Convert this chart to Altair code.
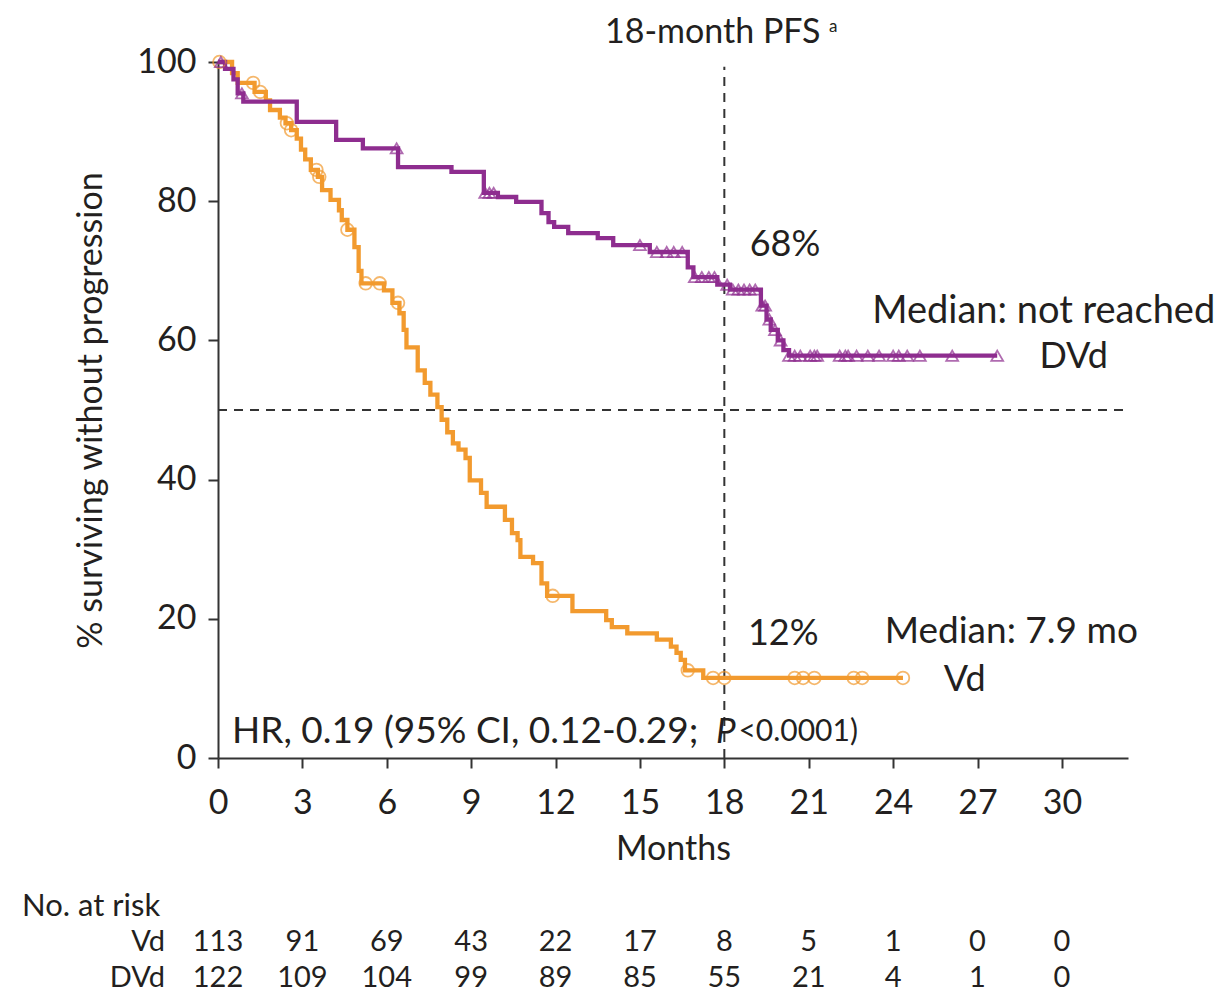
import altair as alt
import pandas as pd

# ---- data ----
vd_t = [0, 0.5, 0.7, 1.3, 1.7, 1.85, 2.2, 2.4, 2.6, 2.8, 2.95, 3.1, 3.3, 3.55, 3.7, 4.0, 4.3, 4.4,
        4.6, 4.85, 5.0, 5.1, 5.9, 6.2, 6.45, 6.6, 6.7, 7.1, 7.35, 7.55, 7.8, 7.95, 8.15, 8.35, 8.55,
        8.8, 8.95, 9.35, 9.55, 10.2, 10.45, 10.65, 10.75, 11.2, 11.5, 11.7, 12.6, 13.8, 14.0, 14.55,
        15.6, 16.1, 16.3, 16.45, 16.6, 17.25, 24.35]
vd_s = [100, 98.4, 97, 95.7, 94.5, 93.1, 92, 91.2, 90.2, 89, 87.4, 86, 84.5, 83.5, 81.6, 80.2, 78.7, 77.3,
        75.9, 73.4, 70, 68.2, 67.2, 65.4, 63.9, 61.5, 59, 55.7, 53.9, 52.2, 50.4, 48.6, 46.8, 45.2, 44.3,
        43.1, 39.9, 38.1, 36.1, 34.2, 32.3, 31.3, 28.9, 28, 25.1, 23.3, 21.1, 19.8, 18.8, 17.9,
        17, 16, 15.1, 14.1, 12.6, 11.5, 11.5]

dvd_t = [0, 0.25, 0.55, 0.7, 0.9, 2.8, 4.2, 5.15, 6.4, 8.3, 9.45, 9.95, 10.6, 11.5, 11.75, 11.95, 12.45,
         13.5, 14.05, 15.35, 16.7, 16.9, 17.75, 18.2, 19.3, 19.5, 19.65, 19.9, 20.1, 20.3, 27.7]
dvd_s = [100, 99, 97.5, 95.5, 94.3, 91.4, 88.8, 87.6, 84.9, 84.2, 81.2, 80.6, 79.9, 78.3, 77, 76.3, 75.4,
         74.7, 73.7, 72.7, 70.5, 69.1, 68, 67.3, 65, 63, 61.5, 60, 58.6, 57.8, 57.8]

vd_cens = [0.05, 1.25, 1.5, 2.45, 2.6, 3.5, 3.6, 4.6, 5.25, 5.75, 6.4, 11.9, 16.7, 17.6, 18.0,
           20.5, 20.8, 21.2, 22.6, 22.9, 24.35]
dvd_cens = [0.1, 0.85, 6.35, 9.5, 9.65, 9.8, 15.0, 15.6, 15.95, 16.2, 16.5, 16.95, 17.2, 17.45, 17.65,
            18.1, 18.3, 18.5, 18.7, 18.9, 19.1, 19.35, 19.45, 19.6, 19.8, 20.0, 20.3, 20.5, 20.7, 21.05,
            21.2, 21.3, 22.1, 22.3, 22.4, 22.7, 23.1, 23.5, 24.0, 24.2, 24.5, 24.95, 26.1, 27.7]

risk_months = [0, 3, 6, 9, 12, 15, 18, 21, 24, 27, 30]
risk_vd = [113, 91, 69, 43, 22, 17, 8, 5, 1, 0, 0]
risk_dvd = [122, 109, 104, 99, 89, 85, 55, 21, 4, 1, 0]

y_ticks = [0, 20, 40, 60, 80, 100]

ORANGE = "#F29A2E"
PURPLE = "#8E2D8F"
FONT = "Lato"
TXT = "#231f20"


def surv_at(ts, ss, t):
    v = ss[0]
    for a, b in zip(ts, ss):
        if a <= t:
            v = b
    return v


curves = pd.concat([
    pd.DataFrame({"t": vd_t, "s": vd_s, "arm": "Vd"}),
    pd.DataFrame({"t": dvd_t, "s": dvd_s, "arm": "DVd"}),
])
cens_vd = pd.DataFrame({"t": vd_cens, "s": [surv_at(vd_t, vd_s, t) for t in vd_cens]})
cens_dvd = pd.DataFrame({"t": dvd_cens, "s": [surv_at(dvd_t, dvd_s, t) for t in dvd_cens]})
risk_df_vd = pd.DataFrame({"t": risk_months, "n": [str(v) for v in risk_vd]})
risk_df_dvd = pd.DataFrame({"t": risk_months, "n": [str(v) for v in risk_dvd]})

xscale = alt.Scale(domain=[0, 32.35], nice=False, zero=False)
yscale = alt.Scale(domain=[0, 100], nice=False)

xenc = alt.X("t:Q", scale=xscale, title="Months",
             axis=alt.Axis(values=risk_months, grid=False, tickSize=10, labelPadding=18,
                           labelFlush=False, titlePadding=12, format="d"))
yenc = alt.Y("s:Q", scale=yscale, title="% surviving without progression",
             axis=alt.Axis(values=y_ticks, grid=False, tickSize=10, labelPadding=12,
                           titlePadding=28))

lines = alt.Chart(curves).mark_line(interpolate="step-after", strokeWidth=4.3).encode(
    x=xenc, y=yenc,
    color=alt.Color("arm:N", scale=alt.Scale(domain=["Vd", "DVd"], range=[ORANGE, PURPLE]), legend=None),
)

pts_vd = alt.Chart(cens_vd).mark_point(shape="circle", filled=False, color=ORANGE, size=160,
                                         strokeWidth=1.8).encode(x="t:Q", y="s:Q")
pts_dvd = alt.Chart(cens_dvd).mark_point(shape="triangle-up", filled=False, color=PURPLE, size=140,
                                           strokeWidth=1.8).encode(x="t:Q", y="s:Q")

hline = alt.Chart().mark_rule(strokeDash=[9, 7], strokeWidth=2, color="#333").encode(
    y=alt.datum(50), x=alt.value(0), x2=alt.value(910))
vline = alt.Chart().mark_rule(strokeDash=[9, 7], strokeWidth=2, color="#333").encode(
    x=alt.datum(18), y=alt.datum(0), y2=alt.datum(99.3))


def label(text, x, y, align="left", size=36, style=None):
    kw = dict(text=text, align=align, baseline="middle", font=FONT, fontSize=size, color=TXT)
    if style:
        kw["fontStyle"] = style
    return alt.Chart().mark_text(**kw).encode(x=alt.datum(x), y=alt.datum(y))


def plabel(text, x, y, align="left", size=30, baseline="middle"):
    return alt.Chart().mark_text(text=text, align=align, baseline=baseline, font=FONT,
                                 fontSize=size, color=TXT).encode(x=alt.value(x), y=alt.value(y))


texts = [
    plabel("18-month PFS", 387, -29, size=34),
    plabel("a", 611, -35, size=17),
    label("68%", 18.9, 73.7),
    label("Median: not reached", 35.45, 64.1, align="right", size=38),
    label("DVd", 29.2, 57.6),
    label("12%", 18.84, 17.8),
    label("Median: 7.9 mo", 23.7, 18.1, size=37),
    label("Vd", 25.8, 11.2),
    label("HR, 0.19 (95% CI, 0.12-0.29;", 0.5, 3.7, size=37),
    label("P", 17.7, 3.7, size=35, style="italic"),
    label("<0.0001)", 18.5, 3.7, size=30),
]

risk_title = plabel("No. at risk", -196, 845, size=31)
risk_lab_vd = plabel("Vd", -53, 880, align="right", size=29)
risk_lab_dvd = plabel("DVd", -53, 916, align="right", size=29)
risk_row_vd = alt.Chart(risk_df_vd).mark_text(font=FONT, fontSize=29, color=TXT, baseline="middle").encode(
    x="t:Q", y=alt.value(880), text="n:N")
risk_row_dvd = alt.Chart(risk_df_dvd).mark_text(font=FONT, fontSize=29, color=TXT, baseline="middle").encode(
    x="t:Q", y=alt.value(916), text="n:N")

chart = alt.layer(
    hline, vline, lines, pts_vd, pts_dvd, *texts,
    risk_title, risk_lab_vd, risk_lab_dvd, risk_row_vd, risk_row_dvd,
).properties(
    width=910, height=696,
    autosize=alt.AutoSizeParams(type="none"),
    padding={"left": 218, "top": 62, "right": 98, "bottom": 238},
    background="white",
).configure_view(stroke=None).configure_axis(
    labelFont=FONT, titleFont=FONT, labelFontSize=34, titleFontSize=34, titleFontWeight="normal",
    labelColor=TXT, titleColor=TXT, domainColor="#333", tickColor="#333", domainWidth=2, tickWidth=2,
)

chart.save("out.html", embed_options={"renderer": "svg", "actions": False})
